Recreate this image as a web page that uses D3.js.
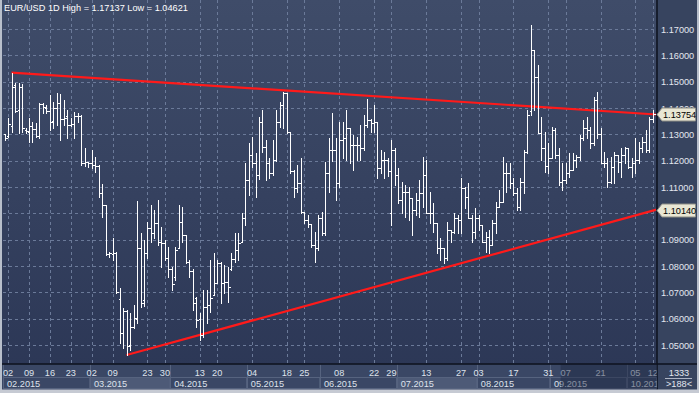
<!DOCTYPE html>
<html>
<head>
<meta charset="utf-8">
<script src="https://cdn.jsdelivr.net/npm/d3@7/dist/d3.min.js"></script>
<style>
html, body { margin: 0; padding: 0; background: #2e3a57; }
svg { display: block; font-family: "Liberation Sans", Arial, sans-serif; }
</style>
</head>
<body>
<svg id="chart" width="699" height="393"></svg>
<script>
// EUR/USD daily bars (index 0 = 30 Jan, last = 12 Oct)
var opens = [
  1.1301,1.1295,1.1330,1.1488,1.1392,1.1480,1.1318,1.1308,1.1330,1.1320,
  1.1295,1.1415,1.1400,1.1390,1.1350,1.1400,1.1420,1.1360,1.1370,1.1335,
  1.1340,1.1368,1.1368,1.1190,1.1194,1.1190,1.1185,1.1180,1.1078,1.1030,
  1.0845,1.0845,1.0850,1.0673,1.0547,1.0630,1.0500,1.0570,1.0600,1.0867,
  1.0670,1.0848,1.0943,1.0924,1.0962,1.0890,1.0886,1.0829,1.0790,1.0760,
  1.0870,1.0966,1.0918,1.0816,1.0782,1.0680,1.0600,1.0538,1.0645,1.0652,
  1.0690,1.0734,1.0810,1.0734,1.0741,1.0790,1.0825,1.0861,1.0890,1.0981,
  1.1127,1.1222,1.1190,1.1146,1.1348,1.1250,1.1190,1.1152,1.1203,1.1348,
  1.1411,1.1456,1.1310,1.1160,1.1095,1.1114,1.1006,1.0975,1.0960,1.0880,
  1.0867,1.0981,1.0924,1.1152,1.1241,1.1241,1.1114,1.1278,1.1285,1.1323,
  1.1260,1.1260,1.1260,1.1247,1.1335,1.1354,1.1342,1.1348,1.1171,1.1203,
  1.1203,1.1000,1.1240,1.1145,1.1051,1.1082,1.1082,1.1057,1.1013,1.1050,
  1.1076,1.1146,1.1000,1.1000,1.0962,1.0867,1.0867,1.0829,1.0937,1.0930,
  1.0981,1.0975,1.1095,1.1063,1.0981,1.0930,1.0981,1.0956,1.0893,1.0911,
  1.0880,1.0962,1.1025,1.1044,1.1152,1.1152,1.1114,1.1076,1.1025,1.1120,
  1.1234,1.1390,1.1620,1.1519,1.1304,1.1247,1.1180,1.1210,1.1316,1.1222,
  1.1120,1.1126,1.1152,1.1164,1.1202,1.1215,1.1285,1.1323,1.1316,1.1266,
  1.1431,1.1300,1.1190,1.1190,1.1120,1.1177,1.1222,1.1196,1.1222,1.1247,
  1.1177,1.1190,1.1202,1.1247,1.1272,1.1240,1.1360
];
var highs = [
  1.1301,1.1361,1.1534,1.1494,1.1496,1.1491,1.1325,1.1361,1.1348,1.1342,
  1.1420,1.1418,1.1411,1.1449,1.1424,1.1456,1.1453,1.1430,1.1392,1.1361,
  1.1386,1.1380,1.1373,1.1247,1.1196,1.1241,1.1215,1.1183,1.1113,1.1032,
  1.0854,1.0905,1.0854,1.0715,1.0639,1.0633,1.0620,1.0652,1.1048,1.0924,
  1.0899,1.0968,1.1032,1.1013,1.1052,1.0949,1.0899,1.0873,1.0797,1.0873,
  1.1032,1.1025,1.0918,1.0823,1.0790,1.0683,1.0620,1.0709,1.0709,1.0823,
  1.0848,1.0823,1.0816,1.0804,1.0797,1.0848,1.0924,1.0924,1.1000,1.1190,
  1.1266,1.1291,1.1228,1.1367,1.1392,1.1278,1.1209,1.1278,1.1392,1.1424,
  1.1462,1.1456,1.1310,1.1165,1.1183,1.1209,1.1006,1.0994,1.0960,1.0930,
  1.0994,1.1006,1.1196,1.1285,1.1380,1.1285,1.1348,1.1348,1.1392,1.1323,
  1.1297,1.1291,1.1335,1.1373,1.1436,1.1360,1.1411,1.1348,1.1241,1.1234,
  1.1210,1.1278,1.1247,1.1171,1.1120,1.1108,1.1101,1.1057,1.1076,1.1127,
  1.1215,1.1203,1.1082,1.1038,1.0962,1.0905,1.0867,1.0968,1.0937,1.1000,
  1.0994,1.1133,1.1101,1.1114,1.0994,1.1019,1.0994,1.0956,1.0930,1.0937,
  1.0975,1.1044,1.1089,1.1215,1.1190,1.1190,1.1133,1.1095,1.1133,1.1240,
  1.1392,1.17137,1.1620,1.1564,1.1367,1.1310,1.1266,1.1329,1.1323,1.1247,
  1.1190,1.1190,1.1228,1.1228,1.1222,1.1297,1.1354,1.1367,1.1329,1.1443,
  1.1462,1.1323,1.1234,1.1209,1.1215,1.1234,1.1222,1.1247,1.1253,1.1247,
  1.1209,1.1285,1.1272,1.1291,1.1316,1.1367,1.1392
];
var lows = [
  1.1279,1.1288,1.1310,1.1386,1.1304,1.1310,1.1305,1.1272,1.1272,1.1290,
  1.1285,1.1380,1.1380,1.1317,1.1323,1.1336,1.1278,1.1336,1.1285,1.1330,
  1.1285,1.1345,1.1183,1.1180,1.1177,1.1171,1.1158,1.1063,1.0987,1.0842,
  1.0835,1.0823,1.0696,1.0506,1.0487,1.04621,1.0481,1.0565,1.0582,1.0645,
  1.0650,1.0830,1.0893,1.0905,1.0880,1.0797,1.0823,1.0760,1.0709,1.0747,
  1.0867,1.0893,1.0810,1.0760,1.0633,1.0570,1.0519,1.0532,1.0582,1.0627,
  1.0690,1.0734,1.0658,1.0696,1.0665,1.0785,1.0816,1.0823,1.0890,1.0956,
  1.1070,1.1177,1.1063,1.1130,1.1234,1.1127,1.1133,1.1146,1.1200,1.1329,
  1.1323,1.1305,1.1152,1.1063,1.1082,1.1000,1.0962,1.0949,1.0873,1.0816,
  1.0860,1.0918,1.0918,1.1082,1.1200,1.1050,1.1100,1.1209,1.1203,1.1190,
  1.1165,1.1203,1.1203,1.1240,1.1329,1.1310,1.1310,1.1133,1.1152,1.1133,
  1.1140,1.0956,1.1108,1.1038,1.1000,1.0987,1.0975,1.0918,1.0994,1.0987,
  1.1025,1.1000,1.0962,1.0930,1.0848,1.0823,1.0810,1.0823,1.0893,1.0924,
  1.0924,1.0924,1.1019,1.0981,1.0893,1.0905,1.0937,1.0893,1.0854,1.0848,
  1.0880,1.0924,1.1025,1.1044,1.1082,1.1095,1.1070,1.1013,1.1013,1.1076,
  1.1228,1.1373,1.1392,1.1304,1.1202,1.1158,1.1152,1.1209,1.1209,1.1108,
  1.1089,1.1114,1.1139,1.1164,1.1177,1.1202,1.1278,1.1285,1.1247,1.1260,
  1.1285,1.1190,1.1177,1.1101,1.1115,1.1114,1.1158,1.1139,1.1190,1.1171,
  1.1139,1.1152,1.1190,1.1234,1.1234,1.1234,1.1348
];
var closes = [
  1.1285,1.1340,1.1480,1.1390,1.1480,1.1325,1.1312,1.1330,1.1320,1.1295,
  1.1415,1.1405,1.1388,1.1348,1.1400,1.1420,1.1360,1.1362,1.1335,1.1340,
  1.1368,1.1370,1.1190,1.1195,1.1190,1.1185,1.1180,1.1076,1.1030,1.0845,
  1.0848,1.0850,1.0700,1.0544,1.0630,1.0495,1.0570,1.0602,1.0867,1.0658,
  1.0848,1.0943,1.0924,1.0962,1.0890,1.0886,1.0829,1.0790,1.0732,1.0862,
  1.0966,1.0918,1.0816,1.0782,1.0658,1.0595,1.0538,1.0645,1.0652,1.0677,
  1.0734,1.0810,1.0734,1.0741,1.0721,1.0825,1.0861,1.0886,1.0981,1.1127,
  1.1222,1.1190,1.1146,1.1348,1.1250,1.1190,1.1152,1.1203,1.1348,1.1411,
  1.1456,1.1310,1.1160,1.1095,1.1114,1.1006,1.0975,1.0960,1.0880,1.0867,
  1.0981,1.0924,1.1152,1.1241,1.1241,1.1114,1.1278,1.1285,1.1323,1.1260,
  1.1260,1.1260,1.1247,1.1335,1.1354,1.1342,1.1348,1.1171,1.1203,1.1203,
  1.1160,1.1240,1.1145,1.1051,1.1082,1.1082,1.1057,1.1013,1.1050,1.1076,
  1.1146,1.1000,1.1000,1.0962,1.0867,1.0867,1.0829,1.0937,1.0930,1.0981,
  1.0975,1.1095,1.1063,1.0981,1.0930,1.0981,1.0956,1.0893,1.0911,1.0880,
  1.0962,1.1025,1.1044,1.1152,1.1152,1.1114,1.1076,1.1025,1.1120,1.1234,
  1.1373,1.1620,1.1519,1.1304,1.1247,1.1180,1.1210,1.1316,1.1222,1.1120,
  1.1126,1.1152,1.1164,1.1202,1.1215,1.1285,1.1323,1.1316,1.1266,1.1431,
  1.1300,1.1190,1.1190,1.1120,1.1177,1.1222,1.1196,1.1222,1.1247,1.1177,
  1.1190,1.1202,1.1247,1.1272,1.1240,1.1360,1.13754
];

// day ticks on the time axis (bar index + label)
var tickIdx = [1,7,13,19,25,31,41,46,56,61,71,81,86,96,106,111,121,131,136,146,156,161,171,181,186];
var tickLbl = ["02","09","16","23","02","09","23","30","13","20","04","18","25","08","22","29","13","27","03","17","31","07","21","05","12"];
// first bar of each month
var monthIdx = [0,25,48,70,91,113,136,157,179];
var monthLbl = ["02.2015","03.2015","04.2015","05.2015","06.2015","07.2015","08.2015","09.2015","10.2015"];
var litMonths = ["03.2015","07.2015"];

var priceTicks = [1.05,1.06,1.07,1.08,1.09,1.10,1.11,1.12,1.13,1.14,1.15,1.16,1.17];

// trend lines: start bar/price, price where they meet the price scale
var trendUpper = {idx: 2, price: 1.15340, edge: 1.13754};
var trendLower = {idx: 35, price: 1.04621, edge: 1.10140};

var symbol = "EUR/USD", period = "1D";
var hiVal = 1.17137, loVal = 1.04621;
var barsVisible = 188, cornerNum = 1333;

var svg = d3.select("#chart"),
    W = 699, H = 393,
    plotL = 3, plotR = 656.5, plotT = 0, plotB = 363.5;

var x = d3.scaleLinear().domain([0, opens.length - 1]).range([4.6, 652.8]);
var y = d3.scaleLinear().domain([1.05, 1.17]).range([345, 29]);
var fmt = d3.format(".5f");

var defs = svg.append("defs");
var grad = defs.append("linearGradient").attr("id", "bg").attr("x1", 0).attr("y1", 0).attr("x2", 0).attr("y2", 1);
grad.append("stop").attr("offset", "0%").attr("stop-color", "#3f4c69");
grad.append("stop").attr("offset", "100%").attr("stop-color", "#2b3655");
defs.append("clipPath").attr("id", "plotclip").append("rect")
    .attr("x", plotL).attr("y", plotT).attr("width", plotR - plotL).attr("height", plotB - plotT);
defs.append("clipPath").attr("id", "axisclip").append("rect")
    .attr("x", plotL).attr("y", plotB).attr("width", plotR - plotL).attr("height", H - plotB);

svg.append("rect").attr("width", W).attr("height", H).attr("fill", "url(#bg)");

// grid
var grid = svg.append("g").attr("clip-path", "url(#plotclip)")
    .attr("stroke", "#6b7a99").attr("stroke-dasharray", "3,3").attr("shape-rendering", "crispEdges");
grid.selectAll(".hg").data(priceTicks).enter().append("line")
    .attr("x1", plotL).attr("x2", plotR)
    .attr("y1", function(d) { return Math.round(y(d)) + 0.5; })
    .attr("y2", function(d) { return Math.round(y(d)) + 0.5; });
grid.selectAll(".vg").data(tickIdx).enter().append("line")
    .attr("y1", plotT).attr("y2", plotB)
    .attr("x1", function(d) { return Math.round(x(d)) + 0.5; })
    .attr("x2", function(d) { return Math.round(x(d)) + 0.5; });

// trend lines
function trendPts(t) {
  var xe = x.invert(plotR);
  return [[x(t.idx), y(t.price)], [x(xe), y(t.edge)]];
}
var red = svg.append("g").attr("clip-path", "url(#plotclip)");
[trendUpper, trendLower].forEach(function(t) {
  red.append("path")
      .attr("d", d3.line()(trendPts(t)))
      .attr("stroke", "#ff1a1a").attr("stroke-width", 2.2).attr("fill", "none");
});

// OHLC bars
var bars = svg.append("g").attr("clip-path", "url(#plotclip)")
    .attr("stroke", "#ffffff").attr("shape-rendering", "crispEdges");
var bar = bars.selectAll(".bar").data(d3.range(opens.length)).enter().append("g");
function px(i) { return Math.round(x(i)) + 0.5; }
bar.append("line")
    .attr("x1", px).attr("x2", px)
    .attr("y1", function(i) { return Math.round(y(highs[i])); })
    .attr("y2", function(i) { return Math.round(y(lows[i])) + 1; });
bar.append("line")
    .attr("x1", function(i) { return px(i) - 2; }).attr("x2", px)
    .attr("y1", function(i) { return Math.round(y(opens[i])) + 0.5; })
    .attr("y2", function(i) { return Math.round(y(opens[i])) + 0.5; });
bar.append("line")
    .attr("x1", px).attr("x2", function(i) { return px(i) + 2; })
    .attr("y1", function(i) { return Math.round(y(closes[i])) + 0.5; })
    .attr("y2", function(i) { return Math.round(y(closes[i])) + 0.5; });

// title
svg.append("text").attr("x", 4).attr("y", 11)
    .attr("fill", "#ffffff").attr("font-size", 9.2)
    .text(symbol + " " + period + " High = " + fmt(hiVal) + " Low = " + fmt(loVal));

// right price panel
svg.append("rect").attr("x", plotR).attr("y", 0).attr("width", W - plotR).attr("height", H)
    .attr("fill", "#37445f");
svg.append("line").attr("x1", plotR + 0.5).attr("x2", plotR + 0.5).attr("y1", 0).attr("y2", H)
    .attr("stroke", "#0c111c").attr("stroke-width", 1.5);
svg.append("g").selectAll("text").data(priceTicks).enter().append("text")
    .attr("x", 661).attr("y", function(d) { return y(d) + 3.5; })
    .attr("fill", "#e3e7ef").attr("font-size", 9.2)
    .text(function(d) { return fmt(d); });

// bottom time panel
var axisG = svg.append("g");
axisG.append("rect").attr("x", 0).attr("y", plotB).attr("width", plotR).attr("height", H - plotB)
    .attr("fill", "#3a4765");
var months = axisG.append("g").attr("clip-path", "url(#axisclip)");
monthIdx.forEach(function(m, k) {
  var x0 = k === 0 ? plotL : x(m - 0.5);
  var x1 = k === monthIdx.length - 1 ? plotR : x(monthIdx[k + 1] - 0.5);
  var lit = litMonths.indexOf(monthLbl[k]) >= 0;
  months.append("rect").attr("x", x0).attr("y", 377.5).attr("width", x1 - x0).attr("height", 11)
      .attr("fill", lit ? "#4d5a77" : "#3a4765").attr("stroke", "#56637f").attr("stroke-width", 1);
  months.append("line").attr("x1", Math.round(x0) + 0.5).attr("x2", Math.round(x0) + 0.5)
      .attr("y1", plotB + 1).attr("y2", 389).attr("stroke", "#56637f");
  months.append("text").attr("x", x0 + 4).attr("y", 387)
      .attr("fill", "#dfe3ec").attr("font-size", 9.2).text(monthLbl[k]);
});
months.selectAll(".dl").data(tickIdx).enter().append("text")
    .attr("x", function(d) { return x(d); }).attr("y", 375.5)
    .attr("text-anchor", "middle").attr("fill", "#dfe3ec").attr("font-size", 9.2)
    .text(function(d, k) { return tickLbl[k]; });
// dimmed tail of the time axis
axisG.append("rect").attr("x", x(161) - 5).attr("y", plotB + 1).attr("width", plotR - x(161) + 5).attr("height", 25)
    .attr("fill", "#1c2540").attr("opacity", 0.45);
svg.append("line").attr("x1", 0).attr("x2", W).attr("y1", plotB + 0.5).attr("y2", plotB + 0.5)
    .attr("stroke", "#0c111c").attr("stroke-width", 1.5);

// corner box
svg.append("text").attr("x", 679).attr("y", 376).attr("text-anchor", "middle")
    .attr("fill", "#e3e7ef").attr("font-size", 9.2).text(cornerNum);
svg.append("line").attr("x1", 665).attr("x2", 692).attr("y1", 378.5).attr("y2", 378.5)
    .attr("stroke", "#aeb5c4");
svg.append("text").attr("x", 679).attr("y", 387).attr("text-anchor", "middle")
    .attr("fill", "#e3e7ef").attr("font-size", 9.2).text(">" + barsVisible + "<");

// price tags where the trend lines hit the scale
[trendUpper, trendLower].forEach(function(t) {
  var yc = Math.round(y(t.edge)) + 0.5;
  svg.append("path")
      .attr("d", "M" + (plotR + 0.5) + "," + yc + "L" + (plotR + 5.5) + "," + (yc - 6.5) +
                 "H695.5V" + (yc + 6.5) + "H" + (plotR + 5.5) + "Z")
      .attr("fill", "#e9e7d4").attr("stroke", "#8d8d86");
  svg.append("text").attr("x", 663).attr("y", yc + 3.5)
      .attr("fill", "#000").attr("font-size", 9.2).text(fmt(t.edge));
});

// outer frame
svg.append("rect").attr("x", 0).attr("y", 0).attr("width", 2).attr("height", H).attr("fill", "#b8bfcb");
svg.append("rect").attr("x", 697).attr("y", 0).attr("width", 2).attr("height", H).attr("fill", "#b8bfcb");
svg.append("rect").attr("x", 0).attr("y", 389.5).attr("width", W).attr("height", 3.5).attr("fill", "#c6cad3");
</script>
</body>
</html>
